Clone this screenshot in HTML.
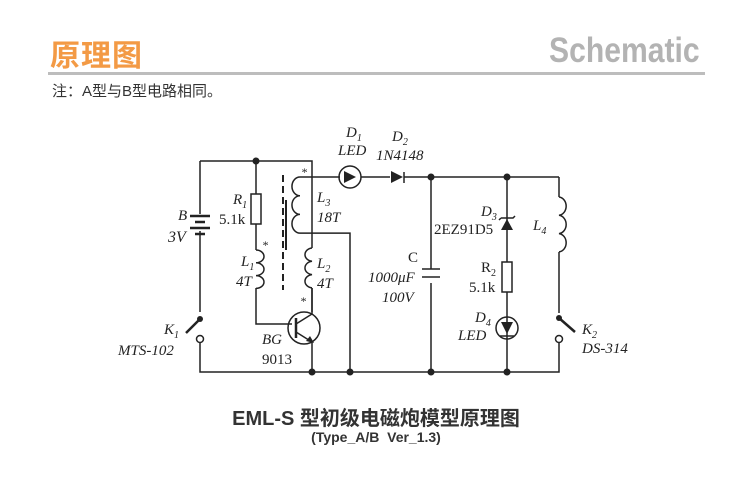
<!DOCTYPE html>
<html><head><meta charset="utf-8"><style>
body{margin:0;background:#fff;width:752px;height:500px;overflow:hidden;position:relative}
.t{position:absolute;font-family:"Liberation Sans","Noto Sans CJK SC",sans-serif}
</style></head><body>
<div class="t" style="left:50px;top:31px;font-size:30px;font-weight:bold;color:#f39a45;letter-spacing:1px">原理图</div>
<div class="t" style="left:549px;top:31px;font-size:35px;font-weight:bold;color:#b3b3b3;transform:scaleX(0.86);transform-origin:left">Schematic</div>
<div style="position:absolute;left:48px;top:72px;width:657px;height:3px;background:#bdbdbd"></div>
<div class="t" style="left:52px;top:80px;font-size:15px;color:#333">注：A型与B型电路相同。</div>
<div class="t" style="left:0;width:752px;text-align:center;top:402px;font-size:20px;font-weight:bold;color:#333">EML-S 型初级电磁炮模型原理图</div>
<div class="t" style="left:0;width:752px;text-align:center;top:429px;font-size:14px;font-weight:bold;color:#333">(Type_A/B&nbsp; Ver_1.3)</div>
<svg width="752" height="500" style="position:absolute;left:0;top:0" font-family="Liberation Serif,serif" font-style="italic" font-size="15" fill="#222">
<g stroke="#222" stroke-width="1.5" fill="none">
<path d="M200 161H312V248M200 161V214M200 231V312M200 343V372H559V343M559 177V197M559 252V313"/>
<path d="M190 216H210M195 222H205M190 228H210M195 234H205" stroke-width="2.5"/>
<path d="M256 161V194M256 224V250"/>
<rect x="251" y="194" width="10" height="30"/>
<path d="M256 250a8 6.4 0 0 1 0 12.8a8 6.4 0 0 1 0 12.8a8 6.4 0 0 1 0 12.8"/>
<path d="M256 288V324H292"/>
<path d="M312 248a8 6.7 0 0 0 0 13.3a8 6.7 0 0 0 0 13.3a8 6.7 0 0 0 0 13.3"/>
<path d="M312 288V312"/>
<path d="M340 177H300a8 9.3 0 0 0 0 18.7a8 9.3 0 0 0 0 18.7a8 9.3 0 0 0 0 18.7H350V372"/>
<path d="M283 175V290" stroke-dasharray="7,4" stroke-width="2"/>
<path d="M286 200V250" stroke-width="2"/>
<circle cx="304" cy="328" r="16"/>
<path d="M296 318V338" stroke-width="2.5"/>
<path d="M296 324L312 314V288M296 332L312 342V372"/>
<circle cx="350" cy="177" r="11"/>
<path d="M361 177H390M404 177H507"/>
<path d="M404 172V183"/>
<path d="M431 177V269M431 283V372M422 269H440M422 277H440" />
<path d="M507 177V262M507 292V372M507 177H559"/>
<rect x="502" y="262" width="10" height="30"/>
<path d="M501 218H513l2 -2M501 218l-2 2"/>
<circle cx="507" cy="328" r="11"/>
<path d="M500 336H514"/>
<path d="M559 197a8 9.2 0 0 1 0 18.3a8 9.2 0 0 1 0 18.3a8 9.2 0 0 1 0 18.3"/>
<path d="M200 319L186 333" stroke-width="2.5"/>
<circle cx="200" cy="339" r="3.5" fill="#fff"/>
<path d="M559 318L575 332" stroke-width="2.5"/>
<circle cx="559" cy="339" r="3.5" fill="#fff"/>
</g>
<g fill="#222">
<circle cx="256" cy="161" r="3.5"/><circle cx="312" cy="372" r="3.5"/><circle cx="350" cy="372" r="3.5"/>
<circle cx="431" cy="177" r="3.5"/><circle cx="507" cy="177" r="3.5"/><circle cx="431" cy="372" r="3.5"/><circle cx="507" cy="372" r="3.5"/>
<circle cx="200" cy="319" r="3"/><circle cx="559" cy="318" r="3"/>
<path d="M344 171V183L356 177Z"/><path d="M391 171V183L403 177Z"/>
<path d="M501 230H513L507 219Z"/>
<path d="M501 322H513L507 334Z"/>
<path d="M306 341L314 343L310 336Z"/>
</g>
<text x="178" y="220">B</text><text x="168" y="242" font-size="16">3V</text>
<text x="233" y="204">R<tspan font-size="10" dy="4">1</tspan></text>
<text x="219" y="224" font-style="normal" font-size="15">5.1k</text>
<text x="241" y="266">L<tspan font-size="10" dy="4">1</tspan></text><text x="236" y="286">4T</text>
<text x="317" y="202">L<tspan font-size="10" dy="4">3</tspan></text><text x="317" y="222">18T</text>
<text x="317" y="268">L<tspan font-size="10" dy="4">2</tspan></text><text x="317" y="288">4T</text>
<text x="301" y="176" font-size="12">*</text><text x="262" y="249" font-size="12">*</text><text x="300" y="305" font-size="12">*</text>
<text x="262" y="344">BG</text><text x="262" y="364" font-style="normal">9013</text>
<text x="346" y="137">D<tspan font-size="10" dy="4">1</tspan></text><text x="338" y="155">LED</text>
<text x="392" y="141">D<tspan font-size="10" dy="4">2</tspan></text><text x="376" y="160">1N4148</text>
<text x="481" y="216">D<tspan font-size="10" dy="4">3</tspan></text><text x="434" y="234" font-style="normal">2EZ91D5</text>
<text x="533" y="230">L<tspan font-size="10" dy="4">4</tspan></text>
<text x="408" y="262" font-style="normal">C</text><text x="368" y="282">1000μF</text><text x="382" y="302">100V</text>
<text x="481" y="272" font-style="normal">R<tspan font-size="10" dy="4">2</tspan></text><text x="469" y="292" font-style="normal">5.1k</text>
<text x="475" y="322">D<tspan font-size="10" dy="4">4</tspan></text><text x="458" y="340">LED</text>
<text x="164" y="334">K<tspan font-size="10" dy="4">1</tspan></text><text x="118" y="355">MTS-102</text>
<text x="582" y="334">K<tspan font-size="10" dy="4">2</tspan></text><text x="582" y="353">DS-314</text>
</svg>
</body></html>
